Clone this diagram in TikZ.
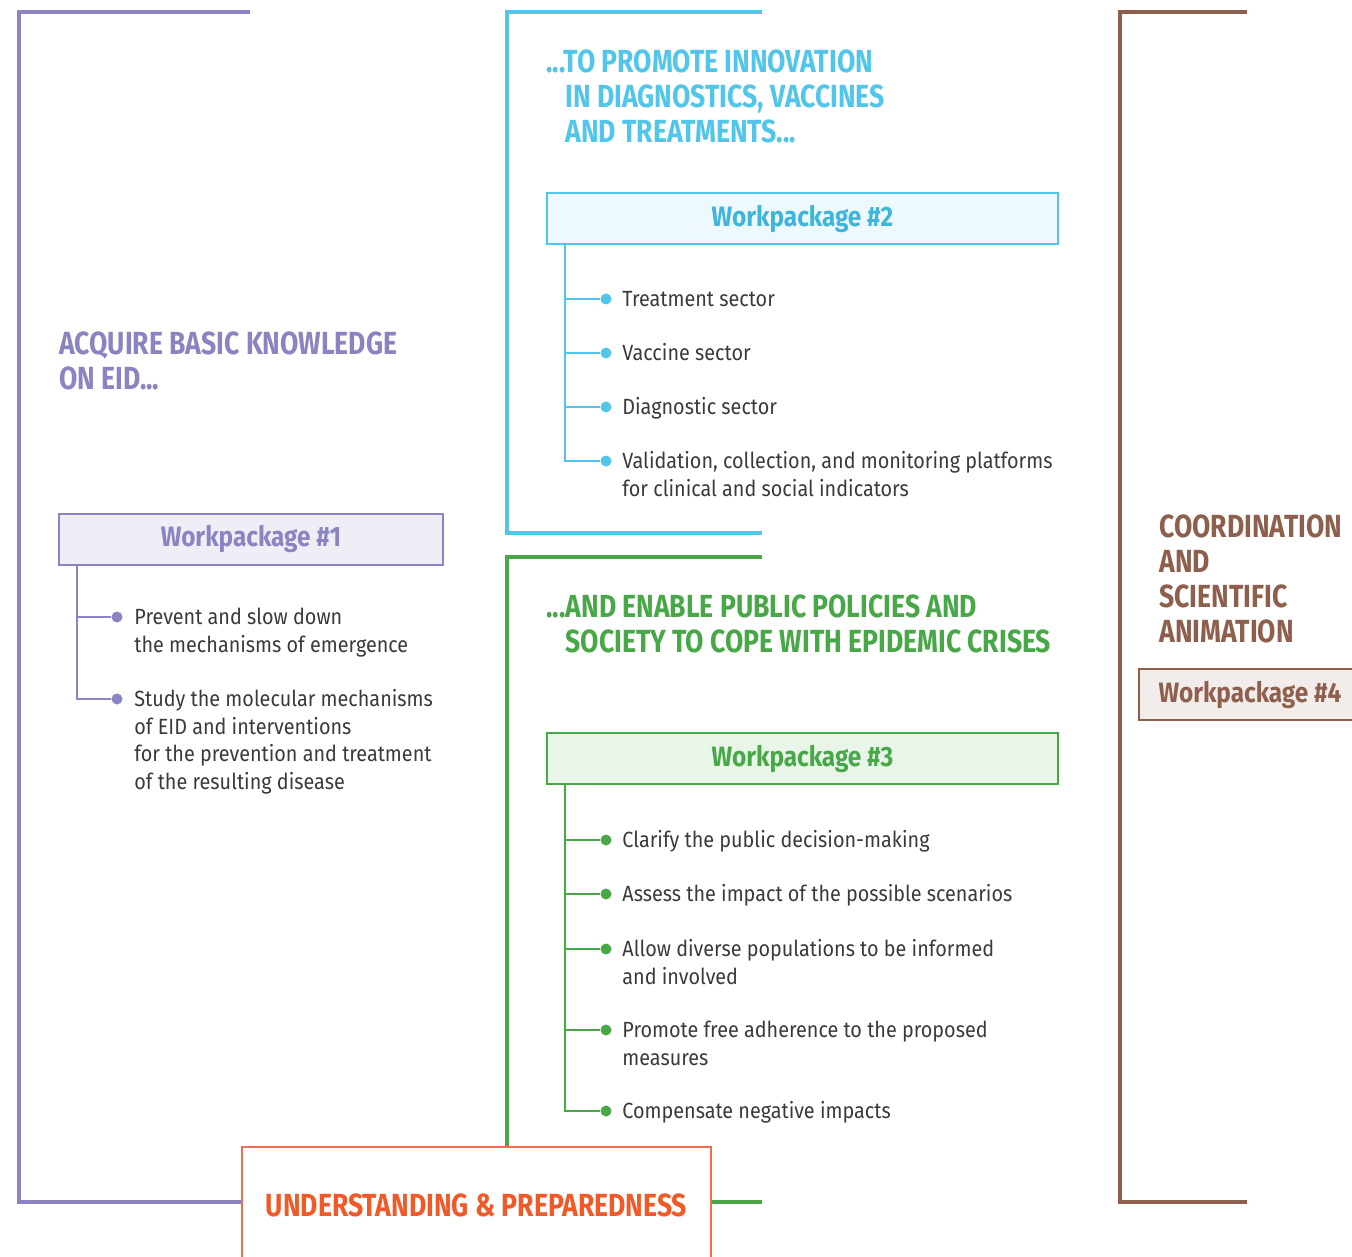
\documentclass[tikz,border=0pt]{standalone}
\usepackage{fontspec}
\setmainfont{Fira Sans}
\newfontfamily\headfont[FakeStretch=0.83]{Fira Sans}
\newfontfamily\wpfont[FakeStretch=0.87]{Fira Sans}
\newfontfamily\bodyfont[FakeStretch=0.9]{Fira Sans}
\usepackage{xcolor}
\definecolor{eidpurple}{HTML}{8A84C2}
\definecolor{eidblue}{HTML}{52C5EA}
\definecolor{eidbluetext}{HTML}{3FB4DC}
\definecolor{eidgreen}{HTML}{48A848}
\definecolor{eidbrown}{HTML}{8F5F4D}
\definecolor{eidorange}{HTML}{F05A28}
\definecolor{eidorangeline}{HTML}{F36C4D}
\definecolor{bodygray}{HTML}{3A3A3A}

\begin{document}
\begin{tikzpicture}[x=0.5pt,y=-0.5pt]
   \useasboundingbox (0,0) rectangle (1352,1256);
   \clip (0,0) rectangle (1352,1256);
   \tikzstyle{bracket}=[line width=1.6pt]
   \tikzstyle{head}=[anchor=base west, align=left, inner sep=0pt, font=\headfont\bfseries\fontsize{16}{17.5}\selectfont]
   \tikzstyle{wp}=[draw, line width=1pt, minimum height=25.5pt, inner sep=0pt, font=\wpfont\bfseries\fontsize{14}{16}\selectfont]
   \tikzstyle{item}=[anchor=base west, align=left, inner sep=0pt, text=bodygray, font=\bodyfont\fontsize{11}{13.75}\selectfont]
   \tikzstyle{dot}=[circle, fill, inner sep=0pt, minimum size=5.5pt]
   \tikzstyle{tree}=[line width=1pt]

   % core box at the bottom
   \node[draw=eidorangeline, line width=1.2pt, text=eidorange, minimum width=234.5pt, minimum height=58pt,
         font=\headfont\bfseries\fontsize{16}{18}\selectfont] (core) at (476.5,1205) {UNDERSTANDING \& PREPAREDNESS};

   % purple: basic knowledge
   \coordinate (ptop) at (250,12);
   \coordinate (pbot) at (19,1202);
   \draw[bracket, eidpurple] (ptop) -| (pbot) -- (core.west |- pbot);
   \node[head, text=eidpurple] (know) at (59,390) {ACQUIRE BASIC KNOWLEDGE\\ON EID...};
   \node[wp, draw=eidpurple, fill=eidpurple!14, text=eidpurple, minimum width=192pt] (wp1) at (251,539) {Workpackage \#1};
   \foreach \i/\y/\n/\txt in {1/617/2/{Prevent and slow down\\the mechanisms of emergence},
                              2/699/4/{Study the molecular mechanisms\\of EID and interventions\\for the prevention and treatment\\of the resulting disease}} {
       \node[dot, eidpurple] (p\i) at (117,\y) {};
       \draw[tree, eidpurple] ([xshift=9.5pt]wp1.south west) |- (p\i);
       \node[item] (pt\i) at (134,{\y+7.5+27.5*(\n-1)}) {\txt};
   }

   % blue: innovation
   \coordinate (btop) at (762,12);
   \coordinate (bbot) at (507,533);
   \coordinate (bend) at (762,533);
   \draw[bracket, eidblue] (btop) -| (bbot) -- (bend);
   \node[head, text=eidblue] (innov) at (546,143) {...TO PROMOTE INNOVATION\\\phantom{...}IN DIAGNOSTICS, VACCINES\\\phantom{...}AND TREATMENTS...};
   \node[wp, draw=eidblue, fill=eidblue!10, text=eidbluetext, minimum width=255.5pt] (wp2) at (802.5,218.5) {Workpackage \#2};
   \foreach \i/\y/\n/\txt in {1/299/1/{Treatment sector}, 2/353/1/{Vaccine sector}, 3/407/1/{Diagnostic sector},
                              4/461/2/{Validation, collection, and monitoring platforms\\for clinical and social indicators}} {
       \node[dot, eidblue] (b\i) at (606,\y) {};
       \draw[tree, eidblue] ([xshift=9.5pt]wp2.south west) |- (b\i);
       \node[item] (bt\i) at (622,{\y+7.5+27.5*(\n-1)}) {\txt};
   }

   % green: public policies
   \coordinate (gtop) at (762,557);
   \coordinate (gleft) at (507,557);
   \coordinate (gend) at (762,1202);
   \draw[bracket, eidgreen] (gtop) -- (gleft) -- (gleft |- core.north);
   \draw[bracket, eidgreen] (core.east |- gend) -- (gend);
   \node[head, text=eidgreen] (policy) at (546,652) {...AND ENABLE PUBLIC POLICIES AND\\\phantom{...}SOCIETY TO COPE WITH EPIDEMIC CRISES};
   \node[wp, draw=eidgreen, fill=eidgreen!12, text=eidgreen, minimum width=255.5pt] (wp3) at (802.5,758.5) {Workpackage \#3};
   \foreach \i/\y/\n/\txt in {1/840/1/{Clarify the public decision-making}, 2/894/1/{Assess the impact of the possible scenarios},
                              3/949/2/{Allow diverse populations to be informed\\and involved},
                              4/1030/2/{Promote free adherence to the proposed\\measures}, 5/1111/1/{Compensate negative impacts}} {
       \node[dot, eidgreen] (g\i) at (606,\y) {};
       \draw[tree, eidgreen] ([xshift=9.5pt]wp3.south west) |- (g\i);
       \node[item] (gt\i) at (622,{\y+7.5+27.5*(\n-1)}) {\txt};
   }

   % brown: coordination
   \coordinate (rtop) at (1247,12);
   \coordinate (rbot) at (1120,1202);
   \coordinate (rend) at (1247,1202);
   \draw[bracket, eidbrown] (rtop) -| (rbot) -- (rend);
   \node[head, text=eidbrown] (coord) at (1159,642) {COORDINATION\\AND\\SCIENTIFIC\\ANIMATION};
   \node[wp, draw=eidbrown, fill=eidbrown!12, text=eidbrown, minimum width=111pt, anchor=west] (wp4) at (1138,694.5) {Workpackage \#4};
\end{tikzpicture}
\end{document}
